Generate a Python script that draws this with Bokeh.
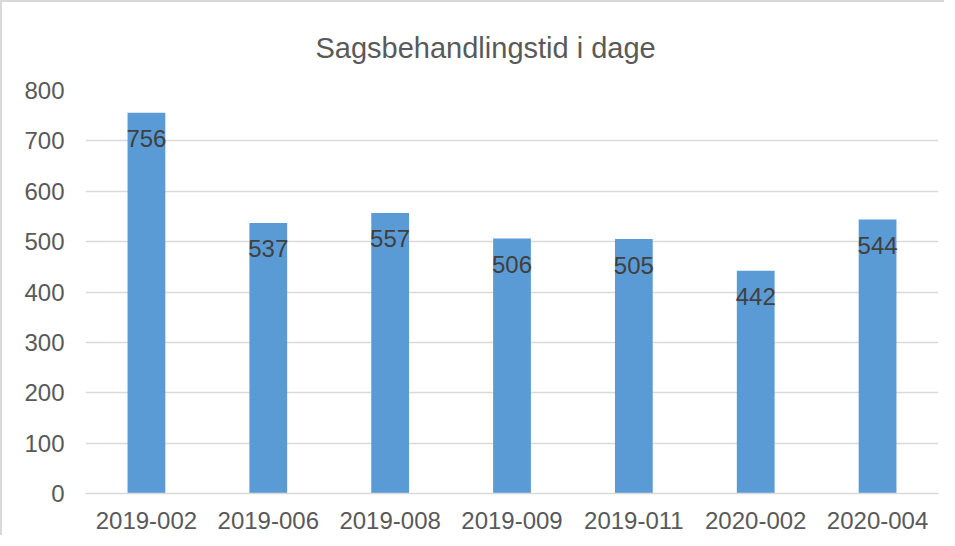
from bokeh.plotting import figure
from bokeh.models import ColumnDataSource, Title, FixedTicker
from bokeh.embed import file_html
from bokeh.resources import INLINE
from bokeh.core.properties import value

categories = ["2019-002", "2019-006", "2019-008", "2019-009", "2019-011", "2020-002", "2020-004"]
values = [756, 537, 557, 506, 505, 442, 544]
labels = [str(v) for v in values]
y_ticks = [0, 100, 200, 300, 400, 500, 600, 700, 800]

src = ColumnDataSource(dict(cat=categories, val=values, lab=labels))

p = figure(x_range=categories, y_range=(0, 800), width=944, height=535,
           output_backend="svg", toolbar_location=None,
           min_border_left=83, min_border_right=8, min_border_top=88, min_border_bottom=44)
p.title = None
t = Title(text="Sagsbehandlingstid i dage", align="left", text_font="Liberation Sans",
          text_font_size="29px", text_color="#595959", text_font_style="normal",
          standoff=53, offset=230)
p.add_layout(t, "above")

p.vbar(x="cat", top="val", width=0.31, source=src, fill_color="#5B9BD5", line_color=None)
p.text(x="cat", y="val", text="lab", source=src, text_align="center", text_baseline="middle",
       y_offset=26, text_font=value("Liberation Sans"), text_font_size="24px", text_color="#404040")

p.outline_line_color = None
p.xgrid.grid_line_color = None
p.ygrid.grid_line_color = "#D9D9D9"
p.ygrid.grid_line_width = 1.5
p.yaxis.ticker = FixedTicker(ticks=y_ticks)
p.yaxis.axis_line_color = None
p.yaxis.major_tick_line_color = None
p.yaxis.minor_tick_line_color = None
p.yaxis.major_label_standoff = 15
p.xaxis.axis_line_color = "#D9D9D9"
p.xaxis.axis_line_width = 1.5
p.xaxis.major_tick_line_color = None
p.xaxis.major_label_standoff = 12
for ax in (p.xaxis[0], p.yaxis[0]):
    ax.major_label_text_font = "Liberation Sans"
    ax.major_label_text_font_size = "24px"
    ax.major_label_text_color = "#595959"

p.styles = {"border-left": "2px solid #D9D9D9", "border-top": "2px solid #D9D9D9"}

open("out.html", "w").write(file_html(p, INLINE))
